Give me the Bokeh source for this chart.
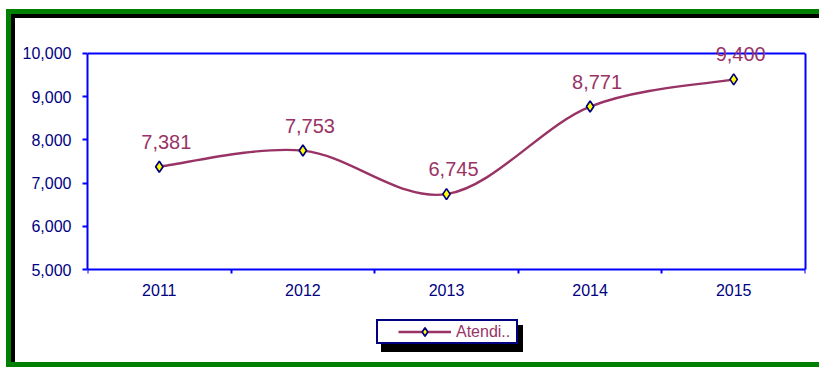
from bokeh.plotting import figure
from bokeh.models import (Range1d, FixedTicker, NumeralTickFormatter, ColumnDataSource,
                          LabelSet, Legend, LegendItem, LinearAxis, Span)
from bokeh.core.properties import value
from bokeh.embed import file_html
from bokeh.resources import INLINE

# ---- data ----
years = ["2011", "2012", "2013", "2014", "2015"]
values = [7381, 7753, 6745, 8771, 9400]
series_name = "Atendi.."
y_ticks = [5000, 6000, 7000, 8000, 9000, 10000]

LINE_C = "#993366"
AXIS_C = "#0000FF"
NAVY = "#000080"
FONT = "Liberation Sans"

n = len(years)
xs = [i + 1 for i in range(n)]
y_lo, y_hi = y_ticks[0], y_ticks[-1]

# CSS-painted decorations behind the transparent canvas: (color, x, y, w, h)
deco = [
    ("#FFFFFF", 378, 321, 138, 21),
    ("#000080", 376, 319, 142, 25),
    ("#000000", 381, 325, 142, 27),
    ("#008000", 6, 9, 813, 5),
    ("#000000", 11, 14, 808, 4),
    ("#008000", 6, 9, 5, 358),
    ("#000000", 11, 14, 4, 348),
    ("#008000", 6, 362, 813, 5),
]
styles = {
    "background-image": ", ".join(f"linear-gradient({c},{c})" for c, *_ in deco),
    "background-size": ", ".join(f"{w}px {h}px" for _, x, y, w, h in deco),
    "background-position": ", ".join(f"{x}px {y}px" for _, x, y, w, h in deco),
    "background-repeat": "no-repeat",
}

# the plot frame reaches below the axis so the legend can sit inside it
p = figure(width=819, height=367, output_backend="svg", toolbar_location=None,
           x_range=Range1d(0.5, n + 0.5), y_range=Range1d(y_lo - 2150, y_hi + 300),
           min_border_left=87, min_border_right=14, min_border_top=40, min_border_bottom=5,
           styles=styles)
p.background_fill_color = None
p.border_fill_color = None
p.outline_line_color = None
p.xgrid.visible = False
p.ygrid.visible = False

# y axis
ya = p.yaxis[0]
ya.ticker = FixedTicker(ticks=y_ticks)
ya.bounds = (y_lo, y_hi)
ya.formatter = NumeralTickFormatter(format="0,0")
ya.axis_line_color = AXIS_C
ya.axis_line_width = 2
ya.major_tick_line_color = AXIS_C
ya.major_tick_line_width = 2
ya.major_tick_in = 0
ya.major_tick_out = 5
ya.minor_tick_line_color = None
ya.major_label_text_font = FONT
ya.major_label_text_font_size = "16px"
ya.major_label_text_color = NAVY
ya.major_label_standoff = 11

# x axis, pinned at the bottom of the value scale
xa = p.xaxis[0]
xa.fixed_location = y_lo
xa.ticker = FixedTicker(ticks=xs, minor_ticks=[x - 0.5 for x in xs] + [xs[-1] + 0.5])
xa.major_label_overrides = {x: y for x, y in zip(xs, years)}
xa.axis_line_color = AXIS_C
xa.axis_line_width = 2
xa.major_tick_line_color = None
xa.major_tick_in = 0
xa.major_tick_out = 0
xa.minor_tick_line_color = AXIS_C
xa.minor_tick_line_width = 2
xa.minor_tick_in = 0
xa.minor_tick_out = 4
xa.major_label_text_font = FONT
xa.major_label_text_font_size = "16px"
xa.major_label_text_color = NAVY
xa.major_label_standoff = 10

# right border of the plot area (an axis with no ticks) and top border
ra = LinearAxis(ticker=FixedTicker(ticks=[]), bounds=(y_lo, y_hi),
                axis_line_color=AXIS_C, axis_line_width=2,
                major_tick_line_color=None, minor_tick_line_color=None)
p.add_layout(ra, "right")
p.add_layout(Span(location=y_hi, dimension="width", line_color=AXIS_C, line_width=2))

# smoothed line (Catmull-Rom style bezier through the data points)
x0s, y0s, x1s, y1s, cx0s, cy0s, cx1s, cy1s = [], [], [], [], [], [], [], []
for i in range(n - 1):
    xa0, ya0 = xs[i], values[i]
    xb, yb = xs[i + 1], values[i + 1]
    xp, yp = (xs[i - 1], values[i - 1]) if i > 0 else (xa0, ya0)
    xn, yn = (xs[i + 2], values[i + 2]) if i + 2 < n else (xb, yb)
    x0s.append(xa0); y0s.append(ya0); x1s.append(xb); y1s.append(yb)
    cx0s.append(xa0 + (xb - xp) / 6.0); cy0s.append(ya0 + (yb - yp) / 6.0)
    cx1s.append(xb - (xn - xa0) / 6.0); cy1s.append(yb - (yn - ya0) / 6.0)
curve = p.bezier(x0=x0s, y0=y0s, x1=x1s, y1=y1s, cx0=cx0s, cy0=cy0s, cx1=cx1s, cy1=cy1s,
                 line_color=LINE_C, line_width=2.4)

src = ColumnDataSource(dict(x=xs, y=values, label=[f"{v:,}" for v in values]))
pts = p.scatter("x", "y", source=src, marker="diamond", size=11,
                fill_color="#FFFF00", line_color=NAVY, line_width=1.7)

labels = LabelSet(x="x", y="y", text="label", source=src, x_offset=7, y_offset=18,
                  text_align="center", text_baseline="alphabetic",
                  text_font=value(FONT), text_font_size=value("20px"), text_color=LINE_C)
p.add_layout(labels)

legend = Legend(items=[LegendItem(label=series_name, renderers=[curve, pts])],
                location=(311, 20), orientation="horizontal",
                margin=0, padding=0, glyph_width=53, glyph_height=21, label_height=21,
                label_standoff=5, label_text_font=FONT, label_text_font_size="16px",
                label_text_color=LINE_C, border_line_alpha=0, background_fill_alpha=0)
p.add_layout(legend, "center")

open("out.html", "w").write(file_html(p, INLINE))
